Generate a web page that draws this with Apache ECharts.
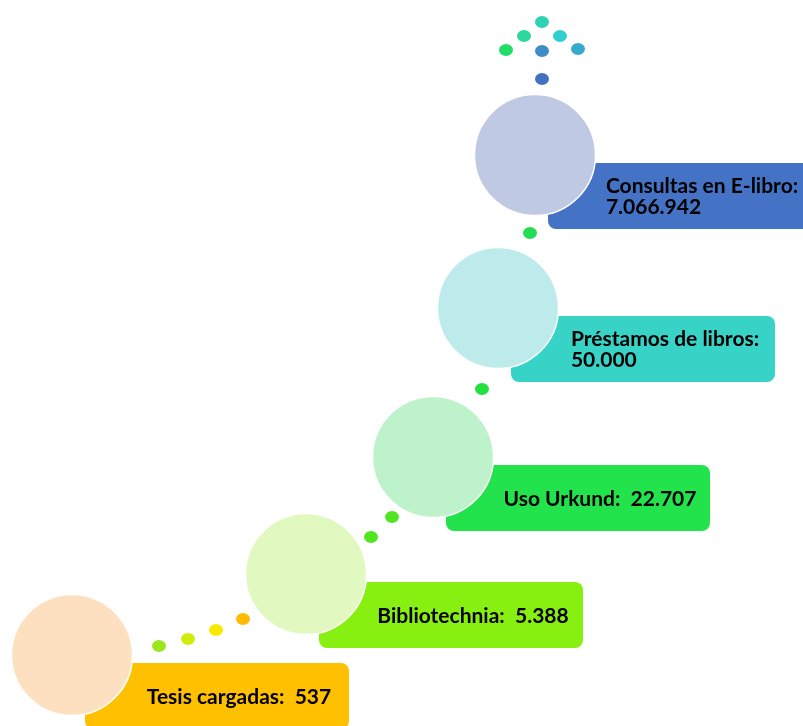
<!DOCTYPE html>
<html>
<head>
<meta charset="utf-8">
<script src="https://cdn.jsdelivr.net/npm/echarts@6/dist/echarts.min.js"></script>
<style>
  html, body { margin: 0; padding: 0; background: #fff; }
  #chart { width: 803px; height: 726px; }
</style>
</head>
<body>
<div id="chart"></div>
<script>
// datos de cada paso (de abajo hacia arriba)
const labels = ['Tesis cargadas:', 'Bibliotechnia:', 'Uso Urkund:', 'Préstamos de libros:', 'Consultas en E-libro:'];
const values = [537, 5388, 22707, 50000, 7066942];
const joiners = ['  ', '  ', '  ', '\n', '\n'];

// colores
const boxColors = ['#ffc000', '#88f010', '#22e34c', '#36d3c6', '#4472c4'];
const circleColors = ['#fde0c0', '#e1f9c1', '#bef2cb', '#bdeaea', '#c0c9e4'];

// maquetación (centros de los círculos, en píxeles de la página)
const stepX = [72, 306, 433, 498, 535];
const stepY = [655, 574, 457, 308, 155];

// puntos decorativos
const dotX = [159, 188, 216, 243, 371, 392, 482, 530, 542, 524, 560, 506, 542, 578, 542];
const dotY = [646, 639, 630, 619, 537, 517, 389, 233, 22, 36, 36, 50, 51, 49, 79];
const dotColors = ['#9ce61e', '#cfec0c', '#f8ea00', '#ffbb00', '#4fe61e', '#52e622', '#24e040', '#22dd55',
  '#2fd2b4', '#2ed89c', '#30cfcf', '#22dd66', '#3f8cc8', '#35aacc', '#4470c4'];

const FONT = 'bold 21px Lato';
const boxW = 264, boxH = 66, circleD = 121;

function fmt(v) {
  return String(v).replace(/\B(?=(\d{3})+(?!\d))/g, '.');
}

const measureCtx = document.createElement('canvas').getContext('2d');
measureCtx.font = FONT;
function textWidth(t) {
  return Math.max.apply(null, t.split('\n').map(l => measureCtx.measureText(l).width));
}

const texts = labels.map((l, i) => l + joiners[i] + fmt(values[i]));

var myChart = echarts.init(document.getElementById('chart'));

const option = {
  animation: false,
  grid: { left: 0, right: 0, top: 0, bottom: 0 },
  xAxis: { type: 'value', min: 0, max: 803, show: false },
  yAxis: { type: 'value', min: 0, max: 726, inverse: true, show: false },
  series: [
    {
      name: 'cajas',
      type: 'custom',
      silent: true,
      z: 1,
      data: stepX.map((x, i) => [x, stepY[i]]),
      renderItem: function (params, api) {
        const i = params.dataIndex;
        const p = api.coord([api.value(0) + 13, api.value(1) + 8]);
        const c = api.coord([api.value(0), api.value(1)]);
        const s = api.size([boxW, boxH]);
        const w = textWidth(texts[i]);
        return {
          type: 'group',
          children: [
            {
              type: 'rect',
              shape: { x: p[0], y: p[1], width: s[0], height: s[1], r: 8 },
              style: { fill: boxColors[i] }
            },
            {
              type: 'text',
              style: {
                text: texts[i],
                x: c[0] + 167 - w / 2,
                y: p[1] + s[1] / 2 + 1,
                align: 'left',
                verticalAlign: 'middle',
                font: FONT,
                lineHeight: 21,
                fill: '#000'
              }
            }
          ]
        };
      }
    },
    {
      name: 'círculos',
      type: 'scatter',
      silent: true,
      z: 2,
      symbolSize: circleD,
      data: stepX.map((x, i) => ({
        value: [x, stepY[i]],
        itemStyle: { color: circleColors[i], borderColor: '#fff', borderWidth: 1.5, opacity: 1 }
      }))
    },
    {
      name: 'puntos',
      type: 'scatter',
      silent: true,
      z: 3,
      symbolSize: [14, 12],
      data: dotX.map((x, i) => ({
        value: [x, dotY[i]],
        itemStyle: { color: dotColors[i], opacity: 1 }
      }))
    }
  ]
};

myChart.setOption(option);
</script>
</body>
</html>
